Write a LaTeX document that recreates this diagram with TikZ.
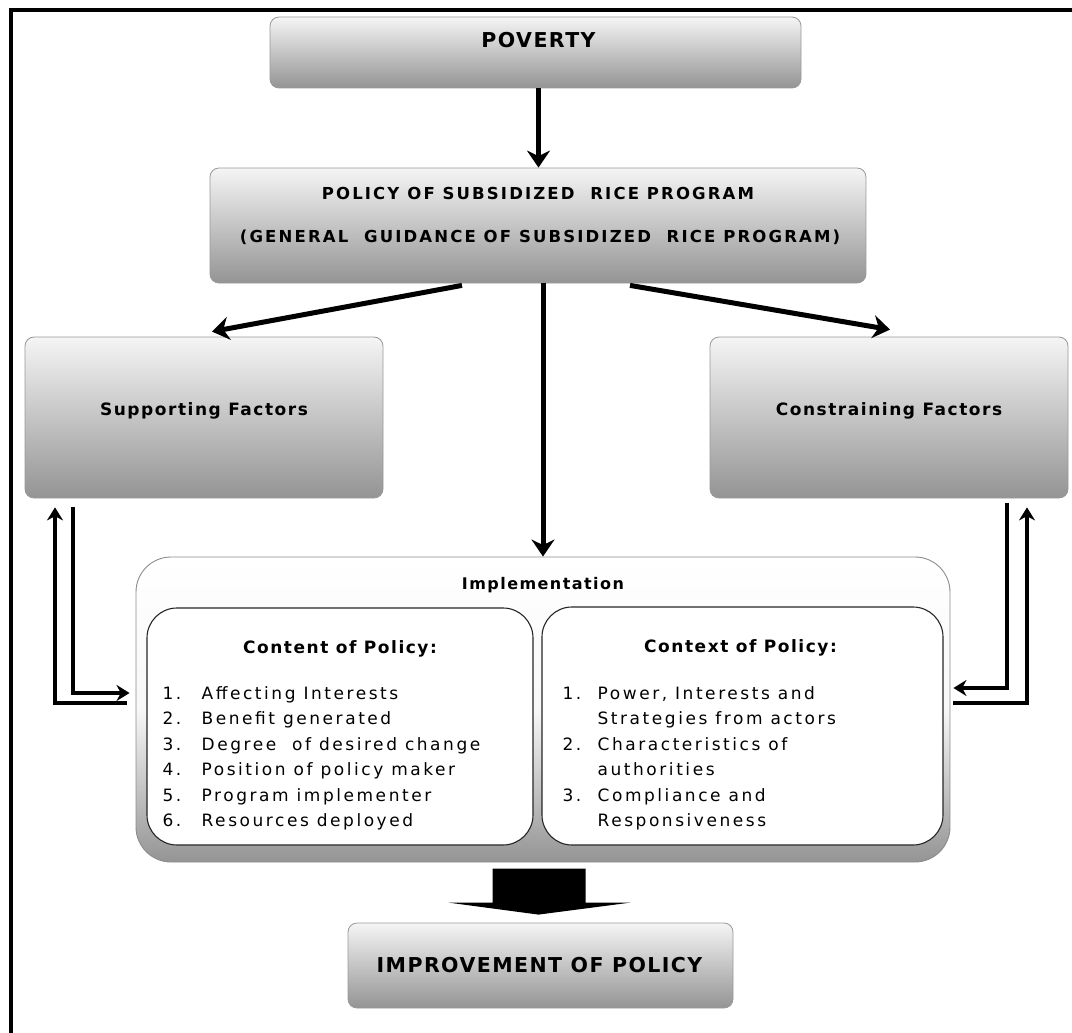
\documentclass[tikz,border=0pt]{standalone}
\usepackage{fontspec}
\setmainfont{DejaVu Sans}
\newfontfamily\titlefont[LetterSpace=7]{DejaVu Sans}
\newfontfamily\policyfont[LetterSpace=13]{DejaVu Sans}
\newfontfamily\headfont[LetterSpace=9]{DejaVu Sans}
\newfontfamily\listfont[LetterSpace=15]{DejaVu Sans}
\usetikzlibrary{arrows.meta,calc}

\begin{document}
\begin{tikzpicture}[x=1pt,y=-1pt,
  greybox/.style={draw=black!40, line width=0.8pt, rounded corners=9pt, top color=black!4, bottom color=black!42, inner sep=0pt},
  whitebox/.style={draw=black!85, line width=1.1pt, fill=white, rounded corners=30pt, inner sep=0pt},
  flow/.style={line width=5pt, -{Stealth[length=17pt,width=23pt]}},
  feed/.style={line width=3.8pt, -{Stealth[length=13pt,width=16pt]}}]
\useasboundingbox (0,0) rectangle (1072,1033);
\draw [line width=4pt] (11,1033) -- (11,10) -- (1072,10);

\node [greybox, minimum width=531pt, minimum height=71pt] (pov) at (535.5,52.5) {};
\node [anchor=base, font=\titlefont\bfseries\fontsize{20.5}{24}\selectfont] (povT) at ($(pov.north)+(3,31)$) {POVERTY};

\node [greybox, minimum width=656pt, minimum height=115pt] (pol) at (538,225.5) {};
\node [anchor=base, font=\policyfont\bfseries\fontsize{16.5}{20}\selectfont] (polA) at ($(pol.north)+(0,32)$) {POLICY OF SUBSIDIZED\ \ RICE PROGRAM};
\node [anchor=base, font=\policyfont\bfseries\fontsize{16.5}{20}\selectfont] (polB) at ($(pol.north)+(2,75)$) {(GENERAL\ \ GUIDANCE OF SUBSIDIZED\ \ RICE PROGRAM)};

\node [greybox, minimum width=358pt, minimum height=161pt] (sup) at (204,417.5) {};
\node [anchor=base, font=\headfont\bfseries\fontsize{17}{20}\selectfont] (supT) at ($(sup.north)+(0,79)$) {Supporting Factors};

\node [greybox, minimum width=358pt, minimum height=161pt] (con) at (889,417.5) {};
\node [anchor=base, font=\headfont\bfseries\fontsize{17}{20}\selectfont] (conT) at ($(con.north)+(0,79)$) {Constraining Factors};

\node [draw=black!45, line width=0.9pt, rounded corners=35pt, top color=white, bottom color=black!42, middle color=black!3, minimum width=814pt, minimum height=305pt] (impl) at (543,709.5) {};
\node [anchor=base, font=\headfont\bfseries\fontsize{16}{20}\selectfont] (implT) at ($(impl.north)+(0,33)$) {Implementation};

\node [whitebox, minimum width=386pt, minimum height=237pt] (cont) at (340,726.5) {};
\node [anchor=base, font=\headfont\bfseries\fontsize{17}{20}\selectfont] (contT) at ($(cont.north)+(0,46)$) {Content of Policy:};
\node [anchor=base west, inner sep=0pt, font=\listfont\fontsize{17}{25.5}\selectfont] (contL) at ($(cont.north west)+(16,92)$) {\begin{tabular}[t]{@{}p{39pt}@{}l@{}}
1. & Affecting Interests\\
2. & Benefit generated\\
3. & Degree\ \ of desired change\\
4. & Position of policy maker\\
5. & Program implementer\\
6. & Resources deployed
\end{tabular}};

\node [whitebox, minimum width=401pt, minimum height=238pt] (ctx) at (742.5,726) {};
\node [anchor=base, font=\headfont\bfseries\fontsize{17}{20}\selectfont] (ctxT) at ($(ctx.north)+(-2,46)$) {Context of Policy:};
\node [anchor=base west, inner sep=0pt, font=\listfont\fontsize{17}{25.5}\selectfont] (ctxL) at ($(ctx.north west)+(21,93)$) {\begin{tabular}[t]{@{}p{35pt}@{}l@{}}
1. & Power, Interests and\\
   & Strategies from actors\\
2. & Characteristics of\\
   & authorities\\
3. & Compliance and\\
   & Responsiveness
\end{tabular}};

\node [greybox, minimum width=385pt, minimum height=85pt] (impr) at (540.5,965.5) {};
\node [anchor=base, font=\titlefont\bfseries\fontsize{20.5}{24}\selectfont] (imprT) at ($(impr.north)+(-1,50)$) {IMPROVEMENT OF POLICY};

\draw [flow] (pov.south -| povT.south) -- (pol.north -| povT.south);
\draw [flow] ($(pol.south)+(-76,2)$) -- ($(sup.north)+(8,-5)$);
\draw [flow] ($(pol.south)+(92,2)$) -- ($(con.north)+(1,-7)$);
\draw [flow] (pol.south -| impl.north) -- (impl.north);

\fill ($(impr.north)+(-48,-54)$) -- ($(impr.north)+(45,-54)$) -- ($(impr.north)+(45,-20)$) -- ($(impr.north)+(90,-20)$) -- ($(impr.north)+(-2,-8)$) -- ($(impr.north)+(-92,-20)$) -- ($(impr.north)+(-48,-20)$) -- cycle;

\draw [feed] ($(impl.west)+(-9,-6.5)$) -| ($(sup.south)+(-149,9)$);
\draw [feed] ($(sup.south)+(-131,9)$) |- ($(impl.west)+(-6,-16.5)$);
\draw [feed] ($(con.south)+(118,5)$) |- ($(impl.east)+(3,-21.5)$);
\draw [feed] ($(impl.east)+(3,-6.5)$) -| ($(con.south)+(138,9)$);
\end{tikzpicture}
\end{document}
